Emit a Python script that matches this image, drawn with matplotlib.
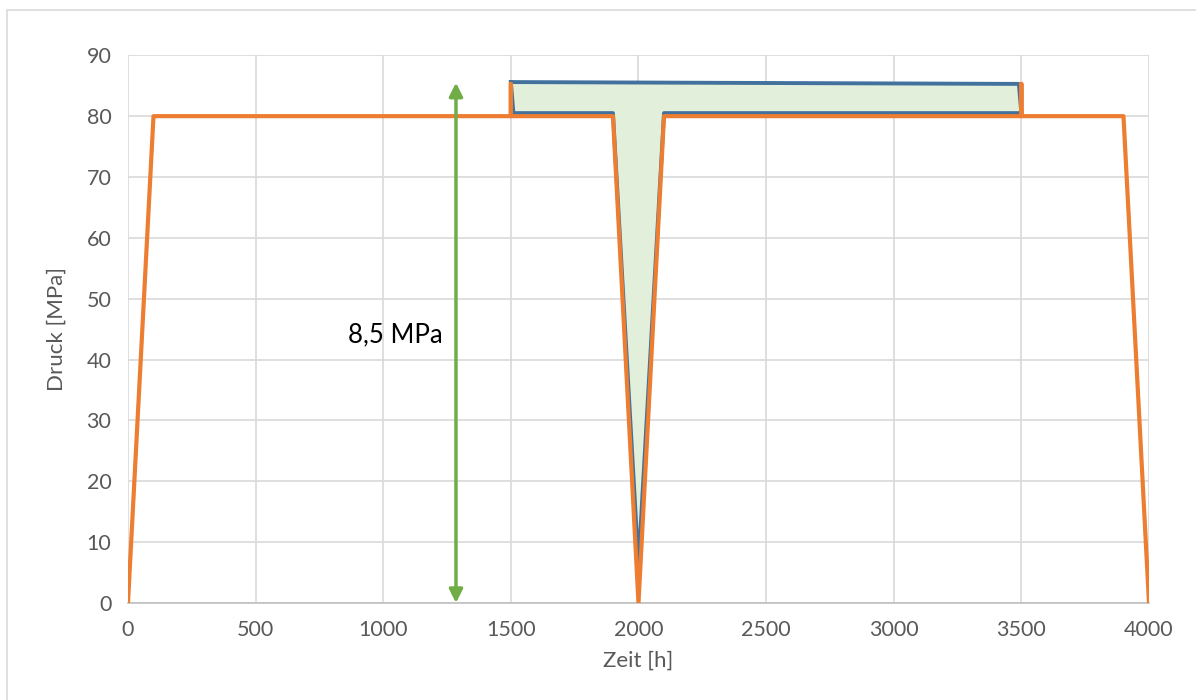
import matplotlib
matplotlib.use('Agg')
import matplotlib.pyplot as plt
from matplotlib.patches import Rectangle

plt.rcParams['font.family'] = ['Lato', 'DejaVu Sans']

# orange series: nominal pressure profile
zeit_soll = [0, 100, 1500, 1500, 1500, 1900, 2000, 2100, 3500, 3500, 3500, 3900, 4000]
druck_soll = [0, 80, 80, 85.3, 80, 80, 0, 80, 80, 85.3, 80, 80, 0]

# blue series: closed outline of the shaded region
zeit_band = [1500, 3490, 3500, 2100, 2000, 1900, 1510, 1500]
druck_band = [85.6, 85.3, 80.5, 80.5, 6.2, 80.5, 80.5, 85.6]

pfeil_x = 1285
pfeil_y = [0, 85.5]
pfeil_text = '8,5 MPa'

x_ticks = [0, 500, 1000, 1500, 2000, 2500, 3000, 3500, 4000]
y_ticks = [0, 10, 20, 30, 40, 50, 60, 70, 80, 90]

fig = plt.figure(figsize=(11.96, 7), dpi=100)
ax = fig.add_axes([0.107, 0.1386, 0.8537, 0.7824])

ax.fill(zeit_band, druck_band, color='#E2EFDA', zorder=2)
ax.plot(zeit_band, druck_band, color='#41719C', lw=2.8, zorder=3)
ax.plot(zeit_soll, druck_soll, color='#ED7D31', lw=3, zorder=4)

ax.annotate('', xy=(pfeil_x, pfeil_y[1]), xytext=(pfeil_x, pfeil_y[0]),
            arrowprops=dict(arrowstyle='<|-|>', color='#70AD47', lw=2.5,
                            mutation_scale=20, shrinkA=0, shrinkB=0), zorder=5)
ax.text(1232, 44, pfeil_text, ha='right', va='center', fontsize=18.5, color='black')

ax.set_xlim(0, 4000)
ax.set_ylim(0, 90)
ax.set_xticks(x_ticks)
ax.set_yticks(y_ticks)
ax.grid(True, color='#D9D9D9', lw=1.2, zorder=0)
ax.set_axisbelow(True)
for s in ['top', 'right', 'left']:
    ax.spines[s].set_visible(False)
ax.spines['bottom'].set_color('#BFBFBF')
ax.spines['bottom'].set_linewidth(1.2)
ax.tick_params(length=0, labelsize=15.5, labelcolor='#595959', pad=12)
ax.set_xlabel('Zeit [h]', fontsize=16, color='#595959', labelpad=8)
ax.set_ylabel('Druck [MPa]', fontsize=16, color='#595959', labelpad=14)

fig.add_artist(Rectangle((7 / 1196, -0.1), 1.2, (690 / 700) + 0.1,
                         transform=fig.transFigure, fill=False,
                         edgecolor='#D9D9D9', lw=1.2))

fig.savefig('out.png', dpi=100)
